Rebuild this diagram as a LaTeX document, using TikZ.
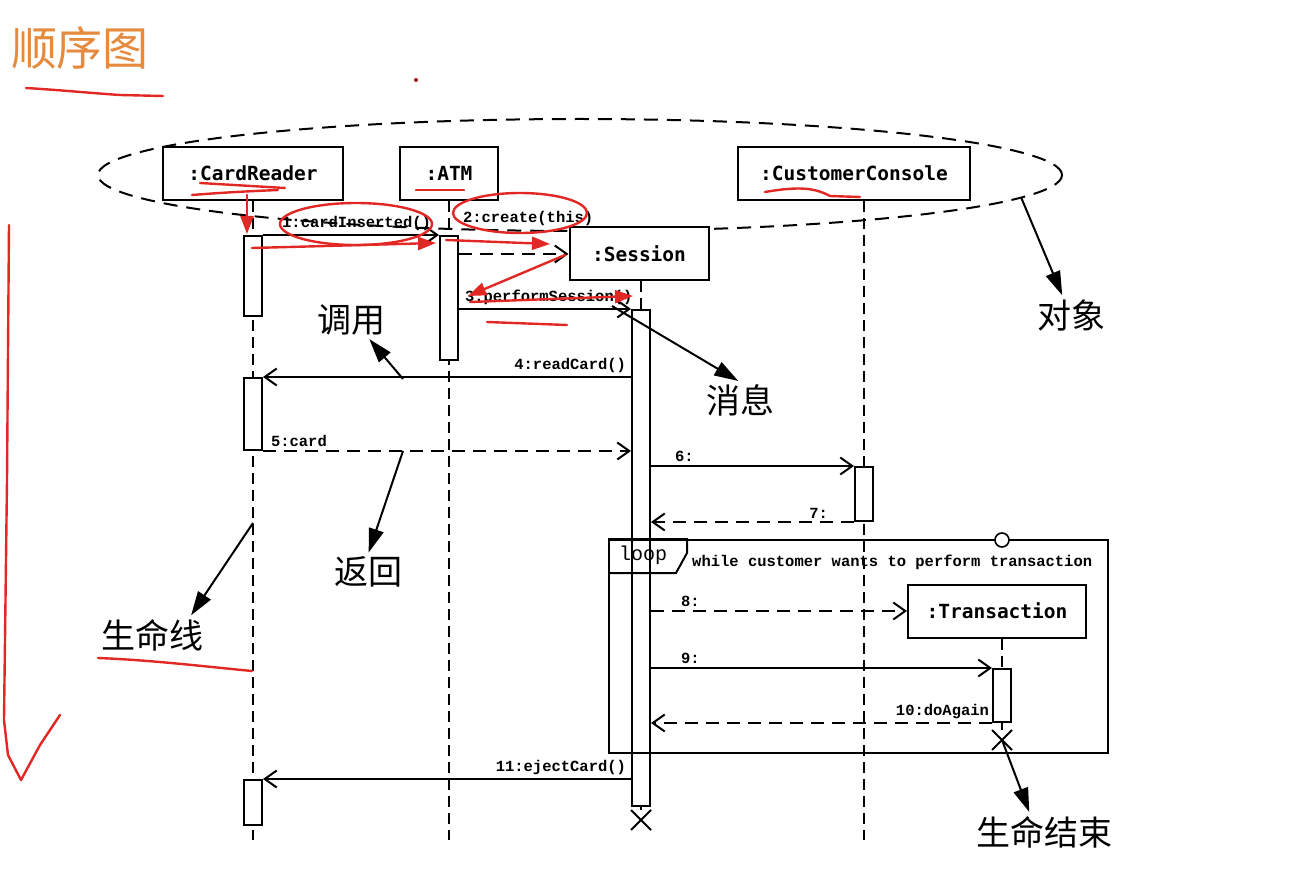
\documentclass[tikz,border=0pt]{standalone}
\usepackage{fontspec}
\newfontfamily\cjk{Noto Sans CJK SC}
\newfontfamily\monosans{DejaVu Sans Mono}
\newfontfamily\monoserif{Liberation Mono}
\usetikzlibrary{positioning, arrows.meta, calc, shapes.misc, shapes.geometric}
\definecolor{titleorange}{RGB}{230,138,62}
\definecolor{penred}{RGB}{226,40,36}

\begin{document}
\begin{tikzpicture}[
    x=1pt, y=-1pt,
    >={Straight Barb[length=12pt, width=17pt]},
    obj/.style={
        draw, line width=2pt, fill=white, minimum height=53pt,
        inner sep=0pt, font=\monosans\bfseries\fontsize{19.5}{24}\selectfont,
    },
    bar/.style={draw, line width=2pt, fill=white, minimum width=18pt, inner sep=0pt},
    lifeline/.style={line width=2pt, dash pattern=on 11pt off 6pt},
    msg/.style={->, line width=2pt},
    ret/.style={->, line width=2pt, dash pattern=on 13pt off 8pt},
    lbl/.style={font=\monoserif\bfseries\fontsize{15.5}{18}\selectfont, inner sep=3pt},
    destroy/.style={draw, cross out, line width=2pt, minimum size=18pt, inner sep=0pt},
    anno/.style={font=\cjk\fontsize{34}{40}\selectfont, inner sep=2pt},
    callout/.style={-{Triangle[length=24pt, width=15pt]}, line width=2pt, shorten >=2pt},
    pen/.style={draw=penred, line width=2.4pt, line cap=round, line join=round},
    penarrow/.style={pen, -{Triangle[length=18pt, width=13pt]}},
]

\useasboundingbox[fill=white] (0,0) rectangle (1310,896);

% lifeline x-coordinates
\def\colCR{253}    % CardReader
\def\colATM{449}   % ATM
\def\colSES{641}   % Session
\def\colCC{864}    % CustomerConsole
\def\colTR{1002}   % Transaction

% title
\node[font=\cjk\fontsize{46}{50}\selectfont, text=titleorange] (title) at (80,48) {顺序图};

% dashed ring round the objects
\node[draw, ellipse, line width=2pt, dash pattern=on 14pt off 9pt,
      minimum width=964pt, minimum height=112pt] (objring) at (580,175) {};

% objects
\node[obj, minimum width=180pt] (cr)  at (\colCR,173.5)  {:CardReader};
\node[obj, minimum width=98pt]  (atm) at (\colATM,173.5) {:ATM};
\node[obj, minimum width=232pt] (cc)  at (854,173.5)     {:CustomerConsole};

% lifelines
\coordinate (crEnd)  at (\colCR,840);
\coordinate (atmEnd) at (\colATM,840);
\coordinate (ccEnd)  at (\colCC,840);
\draw[lifeline] (cr.south)  -- (crEnd);
\draw[lifeline] (atm.south) -- (atmEnd);
\draw[lifeline] (cc.south -| ccEnd) -- (ccEnd);

% created objects
\node[obj, minimum width=139pt] (ses) at (639,254) {:Session};
\node[obj, minimum width=178pt] (tr)  at (997,611) {:Transaction};

% activations
\node[bar, minimum height=80pt]  (crA)  at (\colCR,276)    {};
\node[bar, minimum height=72pt]  (crB)  at (\colCR,414)    {};
\node[bar, minimum height=45pt]  (crC)  at (\colCR,802.5)  {};
\node[bar, minimum height=124pt] (atmA) at (\colATM,298)   {};
\node[bar, minimum height=496pt] (sesA) at (\colSES,558)   {};
\node[bar, minimum height=54pt]  (ccA)  at (\colCC,494)    {};
\node[bar, minimum height=53pt]  (trA)  at (\colTR,695.5)  {};

\draw[lifeline] (sesA.north |- ses.south) -- (sesA.north);
\draw[lifeline] (trA.north |- tr.south) -- (trA.north);

% end of life
\node[destroy] (sesX) at (\colSES,820) {};
\node[destroy] (trX)  at (\colTR,740)  {};
\draw[line width=2pt] (sesA.south) -- (sesX.north);
\draw[line width=2pt] (trA.south) -- (trX.north);

% --- messages ---
\draw[msg] (crA.north east) -- node[lbl, pos=1, anchor=south east, xshift=-4pt] {1:cardInserted()} (atmA.north west);
\draw[ret] (atmA.east |- ses.west) -- node[lbl, pos=0, anchor=south west, yshift=24pt] {2:create(this)} (ses.west);
\draw[msg] (atmA.east |- sesA.north) -- node[lbl, pos=0, anchor=south west, xshift=2pt] {3:performSession()} (sesA.north west);
\draw[msg] (sesA.west |- crB.north) -- node[lbl, pos=0, anchor=south east, xshift=-1pt] {4:readCard()} (crB.north east);
\draw[ret] (crB.south east) -- node[lbl, pos=0, anchor=south west, xshift=4pt] {5:card} (sesA.west |- crB.south);
\draw[msg] (sesA.east |- ccA.north) -- node[lbl, pos=0, anchor=south west, xshift=20pt] {6:} (ccA.north west);
\draw[ret] (ccA.south west) -- node[lbl, pos=0, anchor=south east, xshift=-22pt] {7:} (sesA.east |- ccA.south);
\draw[ret] (sesA.east |- tr.west) -- node[lbl, pos=0, anchor=south west, xshift=26pt] {8:} (tr.west);
\draw[msg] (sesA.east |- trA.north) -- node[lbl, pos=0, anchor=south west, xshift=26pt] {9:} (trA.north west);
\draw[ret] (trA.south west) -- node[lbl, pos=0, anchor=south east, xshift=1pt] {10:doAgain} (sesA.east |- trA.south);
\draw[msg] (sesA.west |- crC.north) -- node[lbl, pos=0, anchor=south east, xshift=-1pt] {11:ejectCard()} (crC.north east);

% loop fragment
\node[draw, line width=2pt, minimum width=499pt, minimum height=213pt, inner sep=0pt] (loopfrm) at (858.5,646.5) {};
\draw[line width=2pt] (loopfrm.north west) -- ++(79,0) -- ++(0,14) -- ++(-11,20) -- ++(-68,0);
\node[font=\monoserif\fontsize{20}{24}\selectfont, anchor=west, inner sep=0pt] (looptag) at (619,555) {loop};
\node[lbl, anchor=west] (guard) at (689,562) {while customer wants to perform transaction};
\node[draw, circle, fill=white, line width=1.6pt, minimum size=14pt, inner sep=0pt] (loopring) at (\colTR,540) {};

% --- notes ---
\node[anno] (tiaoyong) at (351,320)  {调用};
\node[anno] (xiaoxi)   at (740,400)  {消息};
\node[anno] (duixiang) at (1071,315) {对象};
\node[anno] (fanhui)   at (368,572)  {返回};
\node[anno] (smx)      at (152,635)  {生命线};
\node[anno] (smjs)     at (1044,832) {生命结束};

\coordinate (callTail) at (403,379);
\coordinate (msgTail)  at (612,306);
\coordinate (retTail)  at (403,451);
\coordinate (lifeTail) at (\colCR,523);
\draw[callout] (callTail) -- ([xshift=17pt]tiaoyong.south);
\draw[callout] (msgTail) -- (xiaoxi.north);
\draw[callout] (objring.-3.5) -- ([xshift=-8pt]duixiang.north);
\draw[callout] (retTail) -- (fanhui.north);
\draw[callout] (lifeTail) -- ([xshift=38pt]smx.north);
\draw[callout] (trX.center) -- ([xshift=-14pt]smjs.north);

% red pen marks
\draw[pen] (26,88) .. controls (60,90) and (90,93) .. (120,95) -- (163,96);
\draw[pen] (9,225) -- (7,480) -- (4,720) -- (8,755) -- (21,780) -- (40,745) -- (60,715);
\draw[pen] (98,658) .. controls (150,660) and (200,666) .. (252,671);
\draw[pen] (200,183) -- (285,188);
\draw[pen] (192,195) .. controls (230,192) and (255,191) .. (278,190);
\draw[pen] (416,190) -- (464,190);
\draw[pen] (765,192) .. controls (800,186) and (815,188) .. (830,196) -- (860,197);
\draw[pen] (487,322) -- (567,325);
\draw[pen] (356,224) ellipse [x radius=76pt, y radius=21pt];
\draw[pen] (520,213) ellipse [x radius=67pt, y radius=20pt];
\draw[penarrow] (247,195) -- (247,234);
\draw[penarrow] (252,248) -- (436,243);
\draw[penarrow] (446,240) -- (550,244);
\draw[penarrow] (565,255) -- (468,296);
\draw[penarrow] (470,302) -- (633,296);
\fill[penred!70!black] (416,80) circle (2pt);

\end{tikzpicture}
\end{document}
